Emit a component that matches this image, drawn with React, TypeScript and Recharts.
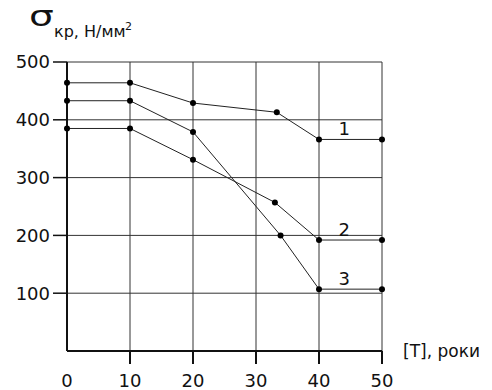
import React from 'react';
import { LineChart, Line, XAxis, YAxis, CartesianGrid, ReferenceDot } from 'recharts';

// years (x) and critical stress (y) for each curve
const years1 = [0, 10, 20, 33.3, 40, 50];
const stress1 = [464, 464, 429, 413, 366, 366];

const years2 = [0, 10, 20, 33, 40, 50];
const stress2 = [385, 385, 331, 257, 192, 192];

const years3 = [0, 10, 20, 33.9, 40, 50];
const stress3 = [433, 433, 379, 200, 107, 107];

const xTicks = [0, 10, 20, 30, 40, 50];
const yTicks = [0, 100, 200, 300, 400, 500];

// curve labels: name, x, y (the value of the curve's flat tail)
const curveNames = ['1', '2', '3'];
const labelX = 44;
const labelY = [366, 192, 107];

const toRows = (xs: number[], ys: number[]) => xs.map((x, i) => ({ x, y: ys[i] }));

const FONT = '"DejaVu Sans", Arial, sans-serif';

const XTick = (props: any) => {
    const { x, y, payload } = props;
    return (
        <g>
            {payload.value !== 0 && <line x1={x} y1={y} x2={x} y2={y + 13} stroke="#111" strokeWidth={2} />}
            <text x={x} y={y + 36} textAnchor="middle" fontSize={18} fontFamily={FONT} fill="#111">
                {payload.value}
            </text>
        </g>
    );
};

const YTick = (props: any) => {
    const { x, y, payload } = props;
    if (payload.value === 0) return <g />;
    return (
        <g>
            <line x1={x - 14} y1={y} x2={x} y2={y} stroke="#111" strokeWidth={1.5} />
            <text x={x - 17} y={y} dy="0.36em" textAnchor="end" fontSize={18} fontFamily={FONT} fill="#111">
                {payload.value}
            </text>
        </g>
    );
};

export default function App() {
    const series = [toRows(years1, stress1), toRows(years2, stress2), toRows(years3, stress3)];

    return (
        <div style={{ position: 'absolute', left: 0, top: 0, width: 492, height: 390, background: '#fff' }}>
            <LineChart width={492} height={390} margin={{ top: 62, right: 110, bottom: 0, left: 0 }}>
                <CartesianGrid stroke="#333" strokeWidth={1} />
                <XAxis
                    type="number"
                    dataKey="x"
                    domain={[0, 50]}
                    ticks={xTicks}
                    height={39}
                    tickSize={0}
                    tickMargin={0}
                    tick={<XTick />}
                    axisLine={{ stroke: '#111', strokeWidth: 2 }}
                    allowDuplicatedCategory={false}
                />
                <YAxis
                    type="number"
                    dataKey="y"
                    domain={[0, 500]}
                    ticks={yTicks}
                    width={67}
                    tickSize={0}
                    tickMargin={0}
                    tick={<YTick />}
                    axisLine={{ stroke: '#111', strokeWidth: 2 }}
                />
                {series.map((d, i) => (
                    <Line
                        key={i}
                        data={d}
                        dataKey="y"
                        type="linear"
                        stroke="#222"
                        strokeWidth={1}
                        dot={{ r: 3, fill: '#000', stroke: 'none' }}
                        isAnimationActive={false}
                    />
                ))}
                {curveNames.map((name, i) => (
                    <ReferenceDot
                        key={name}
                        x={labelX}
                        y={labelY[i]}
                        r={0}
                        shape={(p: any) => (
                            <text x={p.cx} y={p.cy - 4} textAnchor="middle" fontSize={18} fontFamily={FONT} fill="#111">
                                {name}
                            </text>
                        )}
                    />
                ))}
            </LineChart>
            {/* axis titles */}
            <svg width={492} height={390} style={{ position: 'absolute', left: 0, top: 0, pointerEvents: 'none' }}>
                <g fontFamily={FONT} fill="#111">
                    <g transform="translate(29,26) scale(1.4,1)">
                        <text x={0} y={0} fontSize={28}>σ</text>
                    </g>
                    <text x={54} y={37} fontSize={16}>кр, Н/мм</text>
                    <text x={125} y={30} fontSize={11}>2</text>
                    <text x={403} y={357} fontSize={17}>[T], роки</text>
                </g>
            </svg>
        </div>
    );
}
